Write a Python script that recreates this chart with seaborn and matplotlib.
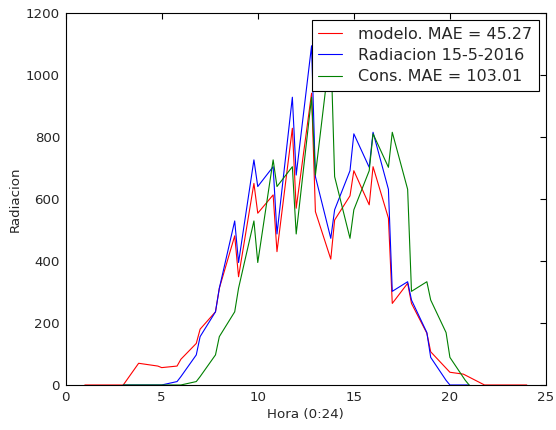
import numpy as np
import pandas as pd
import matplotlib
matplotlib.use("Agg")
import matplotlib.pyplot as plt
import seaborn as sns

# ---- data ----
hora_modelo = [1, 2, 3, 3.8, 4.8, 5, 5.8, 6, 6.8, 7, 7.8, 8, 8.8, 9, 9.8, 10,
               10.8, 11, 11.8, 12, 12.8, 13, 13.8, 14, 14.8, 15, 15.8, 16,
               16.8, 17, 17.8, 18, 18.8, 19, 20, 20.7, 21.8, 22, 23, 24]
modelo = [0, 0, 0, 70, 61, 56, 61, 83, 134, 180, 236, 312, 481, 349, 650, 554,
          613, 430, 828, 570, 941, 559, 406, 532, 610, 691, 581, 704,
          538, 263, 328, 263, 167, 107, 41, 35, 0, 0, 0, 0]

hora_rad = [3, 3.8, 4.8, 5, 5.8, 6, 6.8, 7, 7.8, 8, 8.8, 9, 9.8, 10,
            10.8, 11, 11.8, 12, 12.8, 13, 13.8, 14, 14.8, 15, 15.8, 16,
            16.8, 17, 17.8, 18, 18.8, 19, 19.8, 20, 20.8, 21]
radiacion = [0, 0, 0, 0, 11, 27, 97, 156, 236, 312, 529, 395, 726, 640,
             704, 487, 928, 677, 1094, 672, 473, 565, 691, 810, 702, 815,
             631, 302, 333, 274, 169, 89, 15, 0, 0, 0]

hora_cons = [3, 3.8, 4.8, 5, 5.8, 6, 6.8, 7, 7.8, 8, 8.8, 9, 9.8, 10,
             10.8, 11, 11.8, 12, 12.8, 13, 13.8, 14, 14.8, 15, 15.8, 16,
             16.8, 17, 17.8, 18, 18.8, 19, 19.8, 20, 20.8, 21]
cons = [0, 0, 0, 0, 0, 0, 11, 27, 97, 156, 236, 312, 529, 395,
        726, 640, 704, 487, 928, 677, 1094, 672, 473, 565, 691, 810,
        702, 815, 631, 302, 333, 274, 169, 89, 15, 0]

labels = ["modelo. MAE = 45.27", "Radiacion 15-5-2016", "Cons. MAE = 103.01"]
colors = ["#ff0000", "#0000ff", "#008000"]

df = pd.concat([
    pd.DataFrame({"Hora": hora_modelo, "Radiacion": modelo, "serie": labels[0]}),
    pd.DataFrame({"Hora": hora_rad, "Radiacion": radiacion, "serie": labels[1]}),
    pd.DataFrame({"Hora": hora_cons, "Radiacion": cons, "serie": labels[2]}),
], ignore_index=True)

sns.set_style("white")
plt.rcParams["font.family"] = ["DejaVu Sans"]

fig = plt.figure(figsize=(556 / 80, 430 / 80), dpi=80, facecolor="white")
ax = fig.add_axes([0.118, 0.1047, 0.864, 0.8653])

sns.lineplot(data=df, x="Hora", y="Radiacion", hue="serie", hue_order=labels,
             palette=dict(zip(labels, colors)), estimator=None, sort=False,
             linewidth=1.0, ax=ax)

ax.set_xlim(0, 25)
ax.set_ylim(0, 1200)
ax.set_xticks([0, 5, 10, 15, 20, 25])
ax.set_yticks([0, 200, 400, 600, 800, 1000, 1200])
ax.set_xlabel("Hora (0:24)", fontsize=12)
ax.set_ylabel("Radiacion", fontsize=12)
ax.tick_params(direction="in", top=True, right=True, length=5, width=1,
               labelsize=12, color="black", pad=5)
for s in ax.spines.values():
    s.set_visible(True)
    s.set_color("black")
    s.set_linewidth(1.0)

handles, labs = ax.get_legend_handles_labels()
leg = ax.legend(handles, labs, loc="upper right", fontsize=14.4, frameon=True,
                fancybox=False, shadow=False, framealpha=1, edgecolor="black",
                handlelength=1.5, handletextpad=1.0, borderpad=0.4,
                labelspacing=0.4, borderaxespad=0.45)
leg.get_frame().set_linewidth(1.0)

fig.savefig("out.png", dpi=80, facecolor="white")
